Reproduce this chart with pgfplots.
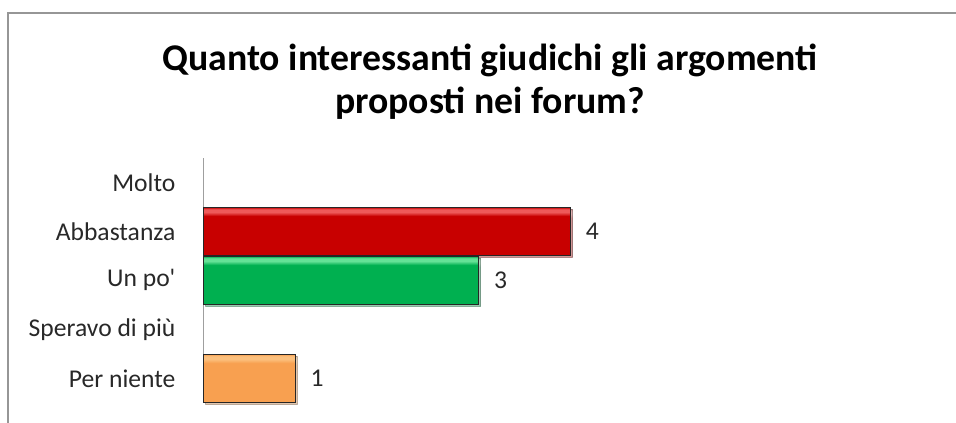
\documentclass[border=0pt]{standalone}
\usepackage{pgfplots}
\pgfplotsset{compat=1.18}
\usepackage{fontspec}
\setmainfont{Carlito}
\usetikzlibrary{shadows}

\definecolor{redD}{RGB}{200,0,0}
\definecolor{redL}{RGB}{238,90,90}
\definecolor{grnD}{RGB}{0,176,80}
\definecolor{grnL}{RGB}{100,226,150}
\definecolor{orgD}{RGB}{248,160,80}
\definecolor{orgL}{RGB}{252,192,125}
\definecolor{frame}{RGB}{150,150,150}
\definecolor{lbl}{RGB}{40,40,40}

% glossy bars: flat body, light band along the top edge
\pgfdeclareverticalshading{redbar}{100bp}{color(0bp)=(redD); color(25bp)=(redD); color(66bp)=(redD); color(70bp)=(redL); color(73bp)=(redL); color(75bp)=(redD); color(100bp)=(redD)}
\pgfdeclareverticalshading{grnbar}{100bp}{color(0bp)=(grnD); color(25bp)=(grnD); color(66bp)=(grnD); color(70bp)=(grnL); color(73bp)=(grnL); color(75bp)=(grnD); color(100bp)=(grnD)}
\pgfdeclareverticalshading{orgbar}{100bp}{color(0bp)=(orgD); color(25bp)=(orgD); color(66bp)=(orgD); color(70bp)=(orgL); color(73bp)=(orgL); color(75bp)=(orgD); color(100bp)=(orgD)}

\begin{document}
\begin{tikzpicture}[x=0.75pt,y=0.75pt]
\useasboundingbox (0,0) rectangle (956,423);
% chart frame
\draw[frame, line width=1.5pt] (8,0) -- (8,410) -- (956,410);
% title
\node[font=\bfseries\fontsize{28.3}{32}\selectfont, align=center, text=black] at (490,341)
  {Quanto interessanti giudichi gli argomenti\\proposti nei forum?};
\begin{axis}[
  at={(222,41)}, anchor=south west,
  scale only axis, width=550.5pt, height=183.75pt,
  xmin=0, xmax=8, ymin=-0.5, ymax=4.5,
  axis x line=none, axis y line=left,
  y axis line style={-, draw=gray!75, line width=0.8pt},
  ytick={0,1,2,3,4},
  yticklabels={Per niente, Speravo di più, Un po\textquotesingle, Abbastanza, Molto},
  major tick length=0pt,
  yticklabel style={anchor=east, inner sep=0pt, xshift=-21pt, text=lbl,
    font=\fontsize{19.2}{22}\selectfont},
  /pgf/number format/assume math mode=true,
  xbar, bar width=0.98, bar shift=0pt,
  nodes near coords,
  every node near coord/.append style={anchor=west, inner sep=0pt, xshift=11pt,
    text=lbl, font=\fontsize{19.2}{22}\selectfont},
  clip=false,
]
\addplot[shade, shading=redbar, draw=black!85, line width=0.7pt,
  drop shadow={shadow xshift=1.5pt, shadow yshift=-1.5pt, opacity=0.3}]
  coordinates {(4,3)};
\addplot[shade, shading=grnbar, draw=black!85, line width=0.7pt,
  drop shadow={shadow xshift=1.5pt, shadow yshift=-1.5pt, opacity=0.3}]
  coordinates {(3,2)};
\addplot[shade, shading=orgbar, draw=black!85, line width=0.7pt,
  drop shadow={shadow xshift=1.5pt, shadow yshift=-1.5pt, opacity=0.3}]
  coordinates {(1,0)};
\end{axis}
\end{tikzpicture}
\end{document}
